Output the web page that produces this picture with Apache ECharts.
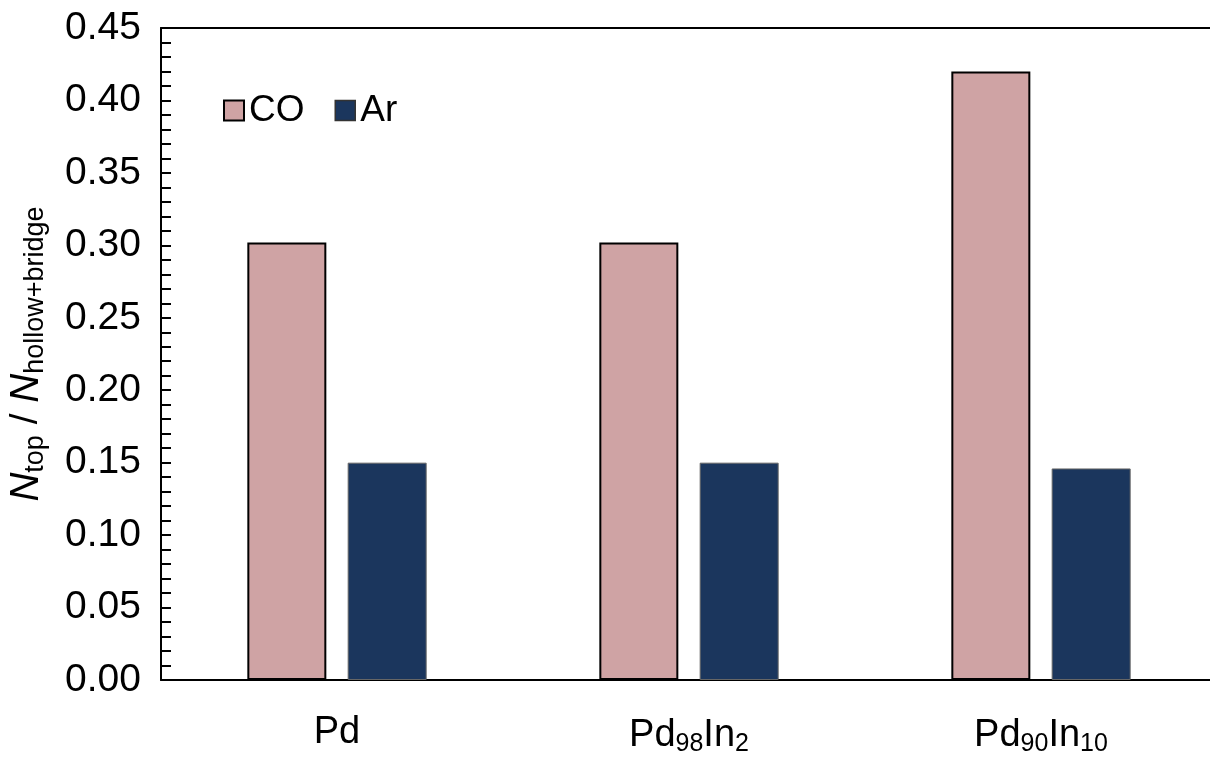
<!DOCTYPE html>
<html>
<head>
<meta charset="utf-8">
<script src="https://cdn.jsdelivr.net/npm/echarts@6/dist/echarts.min.js"></script>
<style>html,body{margin:0;padding:0;background:#fff}#c{width:1210px;height:758px}</style>
</head>
<body>
<div id="c"></div>
<script>
const categories = ['Pd', 'Pd98In2', 'Pd90In10'];
const categoryLabels = ['Pd', 'Pd{sub|98}In{sub|2}', 'Pd{sub|90}In{sub|10}'];
const coValues = [0.302, 0.302, 0.420];
const arValues = [0.150, 0.150, 0.146];
const yTicks = [0, 0.05, 0.10, 0.15, 0.20, 0.25, 0.30, 0.35, 0.40, 0.45];

const chart = echarts.init(document.getElementById('c'));
const font = 'Liberation Sans, Arial, sans-serif';
chart.setOption({
  animation: false,
  textStyle: { fontFamily: font },
  grid: { left: 161, width: 1056, top: 28, bottom: 78, containLabel: false, outerBoundsMode: 'none' },
  legend: {
    left: 218, top: 87,
    icon: 'rect',
    itemWidth: 20, itemHeight: 20, itemGap: 30,
    textStyle: { fontSize: 37, color: '#000', fontFamily: font, padding: [0, 0, 0, 0] },
    data: [
      { name: 'CO', itemStyle: { color: '#cfa3a4', borderColor: '#000', borderWidth: 2 } },
      { name: 'Ar', itemStyle: { color: '#1b365d', borderColor: '#333', borderWidth: 1.5 } }
    ]
  },
  xAxis: [{
    type: 'category',
    data: categories,
    axisLine: { lineStyle: { color: '#000', width: 2 } },
    axisTick: { show: false },
    axisLabel: {
      interval: 0,
      margin: 34,
      fontSize: 38, color: '#000', fontFamily: font,
      formatter: (v, i) => categoryLabels[i],
      rich: { sub: { fontSize: 25, verticalAlign: 'bottom', padding: [18, 0, 0, 0], color: '#000', fontFamily: font } }
    }
  }, {
    type: 'category', position: 'top', data: categories,
    axisLine: { lineStyle: { color: '#000', width: 2 } },
    axisTick: { show: false }, axisLabel: { show: false }
  }],
  yAxis: {
    type: 'value', min: 0, max: 0.45, interval: 0.05,
    axisLine: { show: true, lineStyle: { color: '#000', width: 2 } },
    axisTick: { show: true, inside: true, length: 10, lineStyle: { color: '#000', width: 2 } },
    minorTick: { show: true, splitNumber: 5, length: 10, lineStyle: { color: '#000', width: 2 } },
    splitLine: { show: false },
    axisLabel: { fontSize: 39, color: '#000', margin: 20, fontFamily: font,
      formatter: v => v.toFixed(2) },
    name: '{i|N}{s|top} / {i|N}{s|hollow+bridge}',
    nameLocation: 'middle', nameRotate: 90, nameGap: 112,
    nameTextStyle: {
      fontSize: 39, color: '#000', fontFamily: font,
      rich: {
        i: { fontSize: 40, fontStyle: 'italic', color: '#000', fontFamily: font },
        s: { fontSize: 27, color: '#000', fontFamily: font, verticalAlign: 'bottom', padding: [18, 0, 0, 0] }
      }
    }
  },
  series: [
    { name: 'CO', type: 'bar', data: coValues, barWidth: 79, barGap: '27%',
      itemStyle: { color: '#cfa3a4', borderColor: '#000', borderWidth: 2 } },
    { name: 'Ar', type: 'bar', data: arValues, barWidth: 79,
      itemStyle: { color: '#1b365d', borderColor: '#666', borderWidth: 1 } }
  ]
});
</script>
</body>
</html>
